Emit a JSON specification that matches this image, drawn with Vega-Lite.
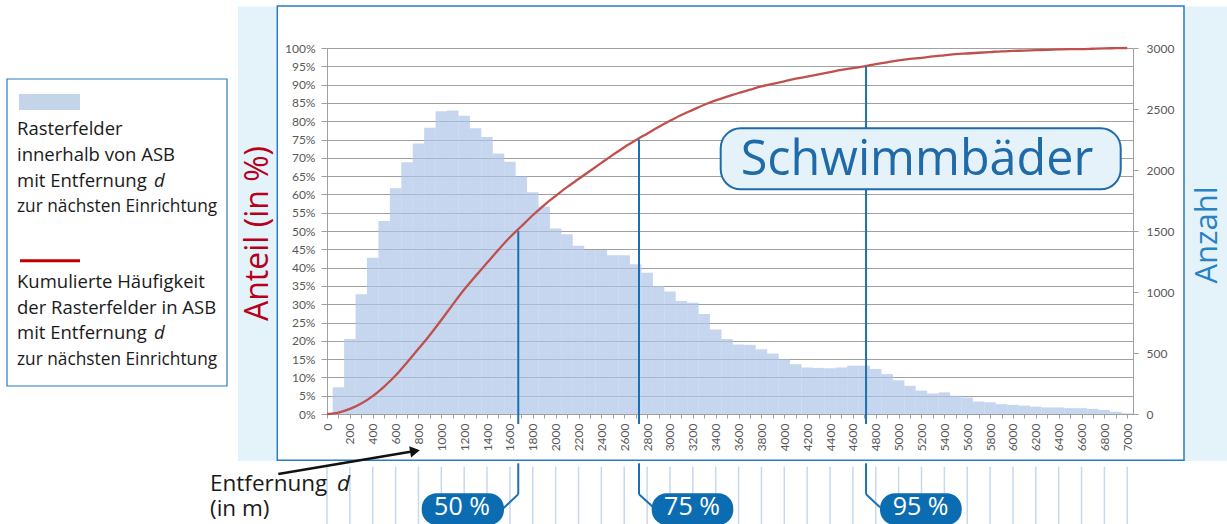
{
  "$schema": "https://vega.github.io/schema/vega-lite/v6.json",
  "width": 806,
  "height": 366,
  "autosize": {"type": "none"},
  "padding": {"left": 327, "top": 48, "right": 94, "bottom": 110},
  "background": "#ffffff",
  "config": {"view": {"stroke": null}, "font": "Open Sans"},
  "datasets": {
    "bars": [
      {"d":100,"n":219},{"d":200,"n":615},{"d":300,"n":981},{"d":400,"n":1281},{"d":500,"n":1581},
      {"d":600,"n":1851},{"d":700,"n":2064},{"d":800,"n":2217},{"d":900,"n":2346},{"d":1000,"n":2481},
      {"d":1100,"n":2487},{"d":1200,"n":2445},{"d":1300,"n":2343},{"d":1400,"n":2271},{"d":1500,"n":2136},
      {"d":1600,"n":2067},{"d":1700,"n":1947},{"d":1800,"n":1818},{"d":1900,"n":1701},{"d":2000,"n":1521},
      {"d":2100,"n":1473},{"d":2200,"n":1380},{"d":2300,"n":1344},{"d":2400,"n":1344},{"d":2500,"n":1302},
      {"d":2600,"n":1302},{"d":2700,"n":1227},{"d":2800,"n":1158},{"d":2900,"n":1050},{"d":3000,"n":1005},
      {"d":3100,"n":927},{"d":3200,"n":912},{"d":3300,"n":819},{"d":3400,"n":693},{"d":3500,"n":615},
      {"d":3600,"n":570},{"d":3700,"n":567},{"d":3800,"n":531},{"d":3900,"n":495},{"d":4000,"n":447},
      {"d":4100,"n":408},{"d":4200,"n":381},{"d":4300,"n":378},{"d":4400,"n":375},{"d":4500,"n":381},
      {"d":4600,"n":396},{"d":4700,"n":396},{"d":4800,"n":369},{"d":4900,"n":327},{"d":5000,"n":276},
      {"d":5100,"n":231},{"d":5200,"n":192},{"d":5300,"n":168},{"d":5400,"n":177},{"d":5500,"n":150},
      {"d":5600,"n":135},{"d":5700,"n":102},{"d":5800,"n":96},{"d":5900,"n":81},{"d":6000,"n":75},
      {"d":6100,"n":69},{"d":6200,"n":60},{"d":6300,"n":54},{"d":6400,"n":54},{"d":6500,"n":48},
      {"d":6600,"n":48},{"d":6700,"n":42},{"d":6800,"n":33},{"d":6900,"n":18},{"d":7000,"n":6}
    ],
    "cum": [
      {"d":0,"p":0},{"d":100,"p":0.4},{"d":200,"p":1.4},{"d":300,"p":2.9},{"d":400,"p":4.9},
      {"d":500,"p":7.5},{"d":600,"p":10.5},{"d":700,"p":14.1},{"d":800,"p":17.8},{"d":900,"p":21.6},
      {"d":1000,"p":25.7},{"d":1100,"p":29.9},{"d":1200,"p":34.0},{"d":1300,"p":37.7},{"d":1400,"p":41.3},
      {"d":1500,"p":44.9},{"d":1600,"p":48.3},{"d":1700,"p":51.3},{"d":1800,"p":54.3},{"d":1900,"p":57.1},
      {"d":2000,"p":59.6},{"d":2100,"p":62.0},{"d":2200,"p":64.2},{"d":2300,"p":66.4},{"d":2400,"p":68.6},
      {"d":2500,"p":70.8},{"d":2600,"p":72.9},{"d":2700,"p":74.8},{"d":2800,"p":76.6},{"d":2900,"p":78.4},
      {"d":3000,"p":80.1},{"d":3100,"p":81.7},{"d":3200,"p":83.1},{"d":3300,"p":84.5},{"d":3400,"p":85.7},
      {"d":3500,"p":86.7},{"d":3600,"p":87.7},{"d":3700,"p":88.6},{"d":3800,"p":89.5},{"d":3900,"p":90.2},
      {"d":4000,"p":90.9},{"d":4100,"p":91.6},{"d":4200,"p":92.2},{"d":4300,"p":92.8},{"d":4400,"p":93.4},
      {"d":4500,"p":94.0},{"d":4600,"p":94.5},{"d":4700,"p":95.0},{"d":4800,"p":95.6},{"d":4900,"p":96.1},
      {"d":5000,"p":96.6},{"d":5100,"p":97.0},{"d":5200,"p":97.3},{"d":5300,"p":97.7},{"d":5400,"p":98.0},
      {"d":5500,"p":98.3},{"d":5600,"p":98.5},{"d":5700,"p":98.7},{"d":5800,"p":98.9},{"d":5900,"p":99.1},
      {"d":6000,"p":99.2},{"d":6100,"p":99.3},{"d":6200,"p":99.4},{"d":6300,"p":99.5},{"d":6400,"p":99.6},
      {"d":6500,"p":99.7},{"d":6600,"p":99.7},{"d":6700,"p":99.8},{"d":6800,"p":99.9},{"d":6900,"p":99.95},
      {"d":7000,"p":100}
    ],
    "markers": [
      {"q":50,"d":1673},{"q":75,"d":2729},{"q":95,"d":4715}
    ],
    "guides": [
      {"d":0},{"d":200},{"d":400},{"d":600},{"d":800},{"d":1000},{"d":1200},{"d":1400},{"d":1600},
      {"d":1800},{"d":2000},{"d":2200},{"d":2400},{"d":2600},{"d":2800},{"d":3000},{"d":3200},{"d":3400},
      {"d":3600},{"d":3800},{"d":4000},{"d":4200},{"d":4400},{"d":4600},{"d":4800},{"d":5000},{"d":5200},
      {"d":5400},{"d":5600},{"d":5800},{"d":6000},{"d":6200},{"d":6400},{"d":6600},{"d":6800},{"d":7000}
    ]
  },
  "layer": [
    {
      "layer": [
        {
          "data": {"values": [{}]},
          "mark": {"type": "rect", "color": "#e4f2f9"},
          "encoding": {
            "x": {"datum": -778.5, "type": "quantitative", "axis": null, "scale": {"domain": [0, 7050], "nice": false, "zero": false, "padding": 0}},
            "x2": {"datum": -433},
            "y": {"datum": 111.34, "type": "quantitative", "axis": null, "scale": {"domain": [0, 100], "nice": false, "zero": false}},
            "y2": {"datum": -12.84}
          }
        },
        {
          "data": {"values": [{}]},
          "mark": {"type": "rect", "color": "#e4f2f9"},
          "encoding": {
            "x": {"datum": 7491.7, "type": "quantitative", "axis": null},
            "x2": {"datum": 7986},
            "y": {"datum": 111.34, "type": "quantitative", "axis": null},
            "y2": {"datum": -12.84}
          }
        },
        {
          "data": {"values": [{}]},
          "mark": {"type": "rect", "filled": false, "color": "#2b7bbd", "strokeWidth": 1.5},
          "encoding": {
            "x": {"datum": -434.7, "type": "quantitative", "axis": null},
            "x2": {"datum": 7496.1},
            "y": {"datum": 111.48, "type": "quantitative", "axis": null},
            "y2": {"datum": -12.65}
          }
        },
        {
          "data": {"values": [{}]},
          "mark": {"type": "rect", "fill": "#ffffff", "stroke": "#2b7bbd", "strokeWidth": 1.2},
          "encoding": {
            "x": {"datum": -2799, "type": "quantitative", "axis": null},
            "x2": {"datum": -874.7},
            "y": {"datum": 91.53, "type": "quantitative", "axis": null},
            "y2": {"datum": 7.65}
          }
        },
        {
          "data": {"values": [{}]},
          "mark": {"type": "rect", "color": "#c5d5e9"},
          "encoding": {
            "x": {"datum": -2694, "type": "quantitative", "axis": null},
            "x2": {"datum": -2160.5},
            "y": {"datum": 87.43, "type": "quantitative", "axis": null},
            "y2": {"datum": 83.06}
          }
        },
        {
          "data": {"values": [{}]},
          "mark": {"type": "rule", "color": "#c00000", "strokeWidth": 3},
          "encoding": {
            "x": {"datum": -2685.3, "type": "quantitative", "axis": null},
            "x2": {"datum": -2160.5},
            "y": {"datum": 41.89, "type": "quantitative", "axis": null}
          }
        },
        {
          "data": {"values": [{}]},
          "mark": {"type": "text", "text": ["Rasterfelder", "innerhalb von ASB", "mit Entfernung"], "lineHeight": 25.8, "align": "left", "baseline": "alphabetic", "font": "Open Sans", "fontSize": 18.5, "color": "#1a1a1a"},
          "encoding": {
            "x": {"datum": -2711.5, "type": "quantitative", "axis": null},
            "y": {"datum": 76.23, "type": "quantitative", "axis": null}
          }
        },
        {
          "data": {"values": [{}]},
          "mark": {"type": "text", "text": "zur nächsten Einrichtung", "align": "left", "baseline": "alphabetic", "font": "Open Sans", "fontSize": 17.3, "color": "#1a1a1a"},
          "encoding": {
            "x": {"datum": -2711.5, "type": "quantitative", "axis": null},
            "y": {"datum": 55.27, "type": "quantitative", "axis": null}
          }
        },
        {
          "data": {"values": [{}]},
          "mark": {"type": "text", "text": "d", "align": "left", "baseline": "alphabetic", "font": "Open Sans", "fontStyle": "italic", "fontSize": 18.5, "color": "#1a1a1a"},
          "encoding": {
            "x": {"datum": -1513.2, "type": "quantitative", "axis": null},
            "y": {"datum": 62.1, "type": "quantitative", "axis": null}
          }
        },
        {
          "data": {"values": [{}]},
          "mark": {"type": "text", "text": ["Kumulierte Häufigkeit", "der Rasterfelder in ASB", "mit Entfernung"], "lineHeight": 25.5, "align": "left", "baseline": "alphabetic", "font": "Open Sans", "fontSize": 18.5, "color": "#1a1a1a"},
          "encoding": {
            "x": {"datum": -2711.5, "type": "quantitative", "axis": null},
            "y": {"datum": 34.34, "type": "quantitative", "axis": null}
          }
        },
        {
          "data": {"values": [{}]},
          "mark": {"type": "text", "text": "zur nächsten Einrichtung", "align": "left", "baseline": "alphabetic", "font": "Open Sans", "fontSize": 17.3, "color": "#1a1a1a"},
          "encoding": {
            "x": {"datum": -2711.5, "type": "quantitative", "axis": null},
            "y": {"datum": 13.39, "type": "quantitative", "axis": null}
          }
        },
        {
          "data": {"values": [{}]},
          "mark": {"type": "text", "text": "d", "align": "left", "baseline": "alphabetic", "font": "Open Sans", "fontStyle": "italic", "fontSize": 18.5, "color": "#1a1a1a"},
          "encoding": {
            "x": {"datum": -1513.2, "type": "quantitative", "axis": null},
            "y": {"datum": 20.41, "type": "quantitative", "axis": null}
          }
        },
        {
          "data": {"values": [{}]},
          "mark": {"type": "text", "text": "Anteil (in %)", "angle": 270, "align": "center", "baseline": "alphabetic", "font": "Open Sans", "fontSize": 32, "color": "#b8001c"},
          "encoding": {
            "x": {"datum": -513.4, "type": "quantitative", "axis": null},
            "y": {"datum": 49.32, "type": "quantitative", "axis": null}
          }
        },
        {
          "data": {"values": [{}]},
          "mark": {"type": "text", "text": "Anzahl", "angle": 270, "align": "center", "baseline": "alphabetic", "font": "Open Sans", "fontSize": 31, "color": "#2583c6"},
          "encoding": {
            "x": {"datum": 7782.1, "type": "quantitative", "axis": null},
            "y": {"datum": 48.91, "type": "quantitative", "axis": null}
          }
        },
        {
          "data": {"name": "guides"},
          "mark": {"type": "rule", "color": "#c7d9ee", "strokeWidth": 1.5},
          "encoding": {
            "x": {"field": "d", "type": "quantitative", "axis": null},
            "y": {"datum": -14.4, "type": "quantitative", "axis": null},
            "y2": {"datum": -31.69}
          }
        },
        {
          "data": {"values": [{}]},
          "mark": {"type": "rule", "color": "#111111", "strokeWidth": 2.5},
          "encoding": {
            "x": {"datum": -426, "type": "quantitative", "axis": null},
            "x2": {"datum": 743.5},
            "y": {"datum": -16.39, "type": "quantitative", "axis": null},
            "y2": {"datum": -10.25}
          }
        },
        {
          "data": {"values": [{}]},
          "mark": {"type": "point", "shape": "triangle-right", "filled": true, "color": "#111111", "size": 130, "angle": -9.5, "opacity": 1},
          "encoding": {
            "x": {"datum": 769.7, "type": "quantitative", "axis": null},
            "y": {"datum": -10.11, "type": "quantitative", "axis": null}
          }
        },
        {
          "data": {"values": [{}]},
          "mark": {"type": "text", "text": "Entfernung", "align": "left", "baseline": "alphabetic", "font": "Open Sans", "fontSize": 22.5, "color": "#1a1a1a"},
          "encoding": {
            "x": {"datum": -1023.4, "type": "quantitative", "axis": null},
            "y": {"datum": -21.1, "type": "quantitative", "axis": null}
          }
        },
        {
          "data": {"values": [{}]},
          "mark": {"type": "text", "text": "(in m)", "align": "left", "baseline": "alphabetic", "font": "Open Sans", "fontSize": 22.5, "color": "#1a1a1a"},
          "encoding": {
            "x": {"datum": -1023.4, "type": "quantitative", "axis": null},
            "y": {"datum": -27.9, "type": "quantitative", "axis": null}
          }
        },
        {
          "data": {"values": [{}]},
          "mark": {"type": "text", "text": "d", "align": "left", "baseline": "alphabetic", "font": "Open Sans", "fontStyle": "italic", "fontSize": 22.5, "color": "#1a1a1a"},
          "encoding": {
            "x": {"datum": 87.5, "type": "quantitative", "axis": null},
            "y": {"datum": -21.1, "type": "quantitative", "axis": null}
          }
        }
      ]
    },
    {
      "data": {"name": "bars"},
      "mark": {"type": "bar", "width": 11.46, "color": "#acc4e7", "opacity": 0.7},
      "encoding": {
        "x": {
          "field": "d",
          "type": "quantitative",
          "scale": {"domain": [0, 7050], "nice": false, "zero": false, "padding": 0},
          "axis": {
            "values": [0,100,200,300,400,500,600,700,800,900,1000,1100,1200,1300,1400,1500,1600,1700,1800,1900,2000,2100,2200,2300,2400,2500,2600,2700,2800,2900,3000,3100,3200,3300,3400,3500,3600,3700,3800,3900,4000,4100,4200,4300,4400,4500,4600,4700,4800,4900,5000,5100,5200,5300,5400,5500,5600,5700,5800,5900,6000,6100,6200,6300,6400,6500,6600,6700,6800,6900,7000],
            "tickCount": 71,
            "labelExpr": "datum.value % 200 === 0 ? '' + datum.value : ''",
            "labelAngle": 270,
            "labelAlign": "right",
            "labelBaseline": "middle",
            "labelFont": "Lato",
            "labelFontSize": 12,
            "labelColor": "#595959",
            "labelPadding": 5,
            "labelOverlap": false,
            "labelFlush": false,
            "labelBound": false,
            "tickSize": 4,
            "tickColor": "#a0a0a0",
            "domainColor": "#a0a0a0",
            "grid": false,
            "title": null
          }
        },
        "y": {
          "field": "n",
          "type": "quantitative",
          "scale": {"domain": [0, 3000], "nice": false, "padding": 0},
          "axis": {
            "orient": "right",
            "values": [0, 500, 1000, 1500, 2000, 2500, 3000],
            "format": "d",
            "labelFont": "Lato",
            "labelFontSize": 12,
            "labelColor": "#595959",
            "labelPadding": 8,
            "labelOverlap": false,
            "tickSize": 5,
            "tickColor": "#a0a0a0",
            "domainColor": "#a0a0a0",
            "grid": false,
            "title": null
          }
        }
      }
    },
    {
      "data": {"name": "cum"},
      "mark": {"type": "line", "color": "#c0504d", "strokeWidth": 2.3, "interpolate": "monotone"},
      "encoding": {
        "x": {"field": "d", "type": "quantitative", "axis": null, "scale": {"domain": [0, 7050], "nice": false, "zero": false, "padding": 0}},
        "y": {
          "field": "p",
          "type": "quantitative",
          "scale": {"domain": [0, 100], "nice": false, "zero": false},
          "axis": {
            "orient": "left",
            "values": [0,5,10,15,20,25,30,35,40,45,50,55,60,65,70,75,80,85,90,95,100],
            "tickCount": 21,
            "labelExpr": "datum.value + '%'",
            "labelFont": "Lato",
            "labelFontSize": 12,
            "labelColor": "#595959",
            "labelPadding": 6,
            "labelOverlap": false,
            "tickSize": 6,
            "tickColor": "#a0a0a0",
            "domainColor": "#a0a0a0",
            "grid": true,
            "gridColor": "#a0a0a0",
            "gridWidth": 1,
            "title": null
          }
        }
      }
    },
    {
      "layer": [
        {
          "data": {"name": "markers"},
          "mark": {"type": "rule", "color": "#1b70b5", "strokeWidth": 2},
          "encoding": {
            "x": {"field": "d", "type": "quantitative", "axis": null, "scale": {"domain": [0, 7050], "nice": false, "zero": false, "padding": 0}},
            "y": {"field": "q", "type": "quantitative", "axis": null, "scale": {"domain": [0, 100], "nice": false, "zero": false}},
            "y2": {"datum": -2.73}
          }
        },
        {
          "data": {"values": [{}]},
          "mark": {"type": "rect", "fill": "#e5f2fa", "stroke": "#1f6aa8", "strokeWidth": 2, "cornerRadius": 20},
          "encoding": {
            "x": {"datum": 3443.6, "type": "quantitative", "axis": null},
            "x2": {"datum": 6942.4},
            "y": {"datum": 78.06, "type": "quantitative", "axis": null},
            "y2": {"datum": 61.39}
          }
        },
        {
          "data": {"values": [{}]},
          "mark": {"type": "text", "text": "Schwimmbäder", "align": "center", "baseline": "alphabetic", "font": "Open Sans", "fontSize": 48.5, "color": "#1f6aa8"},
          "encoding": {
            "x": {"datum": 5160.7, "type": "quantitative", "axis": null},
            "y": {"datum": 65.3, "type": "quantitative", "axis": null}
          }
        },
        {
          "data": {"name": "markers"},
          "mark": {"type": "rule", "color": "#1b70b5", "strokeWidth": 2},
          "encoding": {
            "x": {"field": "d", "type": "quantitative", "axis": null},
            "y": {"datum": -13.47, "type": "quantitative", "axis": null},
            "y2": {"datum": -21.94}
          }
        },
        {
          "data": {"values": [{}]},
          "mark": {"type": "rule", "color": "#1b70b5", "strokeWidth": 2},
          "encoding": {
            "x": {"datum": 1673, "type": "quantitative", "axis": null},
            "x2": {"datum": 1542.1},
            "y": {"datum": -21.94, "type": "quantitative", "axis": null},
            "y2": {"datum": -25.77}
          }
        },
        {
          "data": {"values": [{}]},
          "mark": {"type": "rule", "color": "#1b70b5", "strokeWidth": 2},
          "encoding": {
            "x": {"datum": 2729, "type": "quantitative", "axis": null},
            "x2": {"datum": 2854.1},
            "y": {"datum": -21.94, "type": "quantitative", "axis": null},
            "y2": {"datum": -25.49}
          }
        },
        {
          "data": {"values": [{}]},
          "mark": {"type": "rule", "color": "#1b70b5", "strokeWidth": 2},
          "encoding": {
            "x": {"datum": 4715, "type": "quantitative", "axis": null},
            "x2": {"datum": 4837},
            "y": {"datum": -21.94, "type": "quantitative", "axis": null},
            "y2": {"datum": -25.49}
          }
        },
        {
          "data": {"values": [{}]},
          "mark": {"type": "rect", "color": "#0b6cb2", "cornerRadius": 15},
          "encoding": {
            "x": {"datum": 828.3, "type": "quantitative", "axis": null},
            "x2": {"datum": 1548.2},
            "y": {"datum": -21.67, "type": "quantitative", "axis": null},
            "y2": {"datum": -30.33}
          }
        },
        {
          "data": {"values": [{}]},
          "mark": {"type": "rect", "color": "#0b6cb2", "cornerRadius": 15},
          "encoding": {
            "x": {"datum": 2840.1, "type": "quantitative", "axis": null},
            "x2": {"datum": 3553.9},
            "y": {"datum": -21.67, "type": "quantitative", "axis": null},
            "y2": {"datum": -30.33}
          }
        },
        {
          "data": {"values": [{}]},
          "mark": {"type": "rect", "color": "#0b6cb2", "cornerRadius": 15},
          "encoding": {
            "x": {"datum": 4837, "type": "quantitative", "axis": null},
            "x2": {"datum": 5551.7},
            "y": {"datum": -21.67, "type": "quantitative", "axis": null},
            "y2": {"datum": -30.33}
          }
        },
        {
          "data": {"values": [{}]},
          "mark": {"type": "text", "text": "50 %", "align": "center", "baseline": "alphabetic", "font": "Open Sans", "fontSize": 25, "color": "#ffffff"},
          "encoding": {
            "x": {"datum": 1180.8, "type": "quantitative", "axis": null},
            "y": {"datum": -27.6, "type": "quantitative", "axis": null}
          }
        },
        {
          "data": {"values": [{}]},
          "mark": {"type": "text", "text": "75 %", "align": "center", "baseline": "alphabetic", "font": "Open Sans", "fontSize": 25, "color": "#ffffff"},
          "encoding": {
            "x": {"datum": 3192.6, "type": "quantitative", "axis": null},
            "y": {"datum": -27.6, "type": "quantitative", "axis": null}
          }
        },
        {
          "data": {"values": [{}]},
          "mark": {"type": "text", "text": "95 %", "align": "center", "baseline": "alphabetic", "font": "Open Sans", "fontSize": 25, "color": "#ffffff"},
          "encoding": {
            "x": {"datum": 5191.3, "type": "quantitative", "axis": null},
            "y": {"datum": -27.6, "type": "quantitative", "axis": null}
          }
        }
      ]
    }
  ],
  "resolve": {"scale": {"x": "independent", "y": "independent"}}
}
